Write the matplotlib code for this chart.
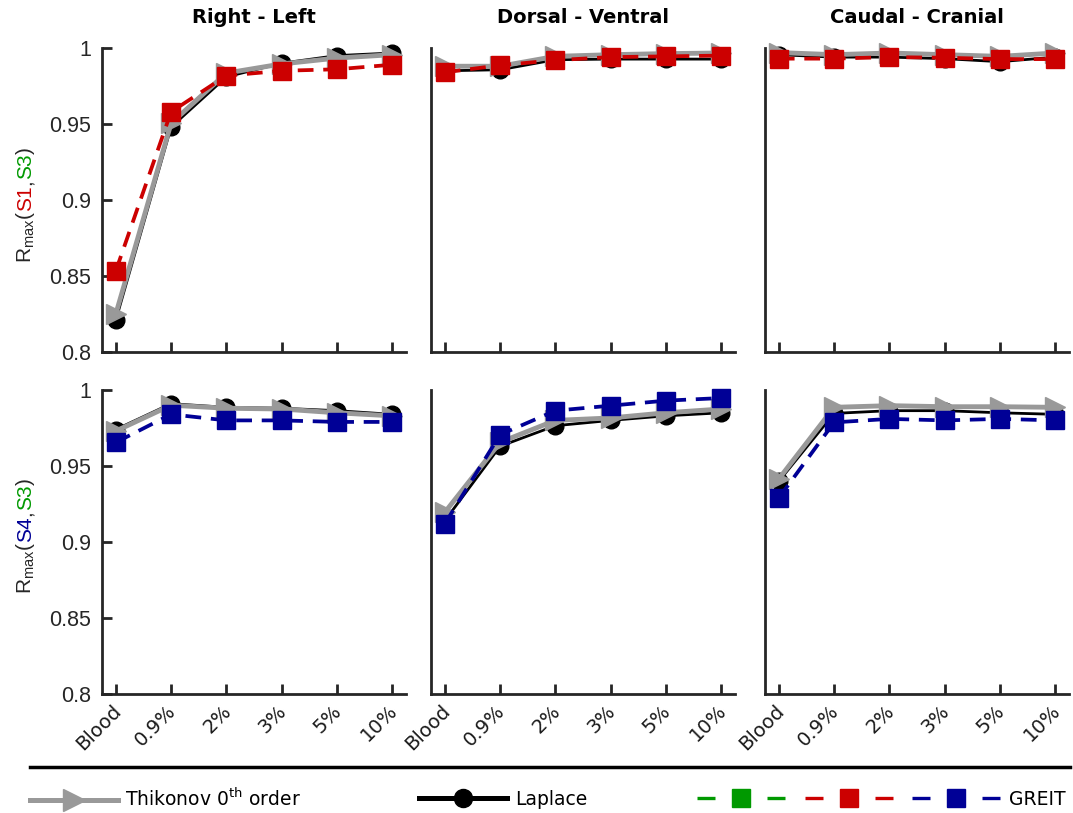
import matplotlib
matplotlib.use("Agg")
import matplotlib.pyplot as plt
from matplotlib.lines import Line2D
from matplotlib.legend_handler import HandlerTuple
from matplotlib.transforms import ScaledTranslation

plt.rcParams['font.family'] = ['DejaVu Sans']

# data
conc_labels = ["Blood", "0.9%", "2%", "3%", "5%", "10%"]
titles = ["Right - Left", "Dorsal - Ventral", "Caudal - Cranial"]

# top row: S1 (red GREIT)
thik_top = [
    [0.825, 0.9505, 0.9835, 0.9895, 0.9934, 0.9956],
    [0.988, 0.988, 0.9945, 0.9956, 0.9963, 0.9967],
    [0.997, 0.9956, 0.9967, 0.9956, 0.9945, 0.9967],
]
lap_top = [
    [0.821, 0.948, 0.981, 0.990, 0.995, 0.9967],
    [0.985, 0.9857, 0.9923, 0.9927, 0.9927, 0.9927],
    [0.9956, 0.994, 0.994, 0.993, 0.991, 0.994],
]
greit_s1 = [
    [0.8534, 0.958, 0.9818, 0.985, 0.986, 0.989],
    [0.984, 0.9886, 0.992, 0.994, 0.9945, 0.995],
    [0.993, 0.993, 0.994, 0.9936, 0.9927, 0.9927],
]

# bottom row: S4 (blue GREIT)
thik_bot = [
    [0.973, 0.990, 0.988, 0.9875, 0.985, 0.983],
    [0.9195, 0.9656, 0.980, 0.9816, 0.985, 0.9875],
    [0.9415, 0.9886, 0.9897, 0.989, 0.989, 0.9886],
]
lap_bot = [
    [0.974, 0.991, 0.9886, 0.988, 0.9864, 0.984],
    [0.914, 0.963, 0.9765, 0.980, 0.983, 0.985],
    [0.940, 0.9846, 0.9864, 0.9864, 0.985, 0.984],
]
greit_s4 = [
    [0.9655, 0.984, 0.980, 0.980, 0.979, 0.979],
    [0.912, 0.9706, 0.9864, 0.9897, 0.993, 0.9947],
    [0.929, 0.9787, 0.981, 0.980, 0.981, 0.980],
]

yticks = [0.8, 0.85, 0.9, 0.95, 1.0]
ytick_labels = ["0.8", "0.85", "0.9", "0.95", "1"]

grey = "#999999"
red = "#cc0000"
blue = "#000096"
green = "#009900"
axcol = "#262626"

W, H = 1073, 813
fig = plt.figure(figsize=(W / 100, H / 100), dpi=100)

lefts = [102, 431, 765]
axw = 304
row_tops = [48, 390]
axh = 304

x = list(range(len(conc_labels)))
axes = []
for r in range(2):
    for c in range(3):
        ax = fig.add_axes([lefts[c] / W, 1 - (row_tops[r] + axh) / H, axw / W, axh / H])
        axes.append(ax)
        if r == 0:
            thik, lap, gr, gcol = thik_top[c], lap_top[c], greit_s1[c], red
        else:
            thik, lap, gr, gcol = thik_bot[c], lap_bot[c], greit_s4[c], blue
        ax.plot(x, lap, color="black", lw=2.0, marker="o", ms=12, clip_on=False, zorder=3)
        ax.plot(x, thik, color=grey, lw=3.5, marker=">", ms=15, clip_on=False, zorder=4)
        ax.plot(x, gr, color=gcol, lw=2.7, ls=(0, (4.2, 2.6)), marker="s", ms=12.5,
                clip_on=False, zorder=5)

        ax.set_xlim(-0.25, 5.25)
        ax.set_ylim(0.8, 1.0)
        for s in ["top", "right"]:
            ax.spines[s].set_visible(False)
        for s in ["left", "bottom"]:
            ax.spines[s].set_color(axcol)
            ax.spines[s].set_linewidth(2)
        ax.set_xticks(x)
        ax.tick_params(axis="x", direction="in", length=7, width=2, color=axcol, pad=10)
        if r == 0:
            ax.set_xticklabels([])
            ax.set_title(titles[c], fontsize=14, fontweight="bold", pad=18)
        else:
            ax.set_xticklabels(conc_labels, rotation=45, ha="right", va="center",
                               rotation_mode="anchor", fontsize=14, color="#1a1a1a")
            for lab in ax.get_xticklabels():
                lab.set_transform(lab.get_transform() + ScaledTranslation(2 / 100, 0, fig.dpi_scale_trans))
        if c == 0:
            ax.set_yticks(yticks)
            ax.set_yticklabels(ytick_labels, fontsize=15.5, family="Liberation Sans", color=axcol)
            ax.tick_params(axis="y", direction="in", length=7, width=2, color=axcol, pad=8)
        else:
            ax.set_yticks([])

# y labels with coloured parts
renderer = fig.canvas.get_renderer()


def colored_ylabel(yc, pieces):
    texts = []
    total = 0
    for txt, col in pieces:
        t = fig.text(31 / W, 0, txt, color=col, rotation=90, rotation_mode="anchor",
                     ha="left", va="baseline", fontsize=15, family="Liberation Sans")
        hgt = t.get_window_extent(renderer).height / H
        texts.append((t, hgt))
        total += hgt
    y = yc - total / 2
    for t, hgt in texts:
        t.set_y(y)
        y += hgt


colored_ylabel(1 - 205 / H, [(r"R$_{\mathregular{max}}$(", "#262626"), ("S1", red),
                             (",", "#262626"), ("S3", green), (")", "#262626")])
colored_ylabel(1 - 536 / H, [(r"R$_{\mathregular{max}}$(", "#262626"), ("S4", blue),
                             (",", "#262626"), ("S3", green), (")", "#262626")])

# separator line above legend
fig.add_artist(Line2D([30 / W, 1070 / W], [1 - 767 / H, 1 - 767 / H],
                      transform=fig.transFigure, color="black", lw=2.5))

# legends
fs = 13.5
leg_y = 1 - 799 / H
h_thik = Line2D([], [], color=grey, lw=3.6, marker=">", ms=16)
h_lap = Line2D([], [], color="black", lw=3.6, marker="o", ms=13)
h_g = [Line2D([], [], color=col, lw=2.4, ls=(0, (5.4, 5.1)), marker="s", ms=13)
       for col in [green, red, blue]]

common = dict(frameon=False, borderpad=0, borderaxespad=0, fontsize=fs,
              loc="center left", numpoints=1)
leg1 = fig.legend([h_thik], [r"Thikonov 0$^{\mathregular{th}}$ order"],
                  bbox_to_anchor=(30 / W, leg_y), handlelength=4.7, handletextpad=0.37, **common)
leg2 = fig.legend([h_lap], ["Laplace"],
                  bbox_to_anchor=(419 / W, leg_y), handlelength=4.7, handletextpad=0.43, **common)
leg3 = fig.legend([tuple(h_g)], ["GREIT"],
                  bbox_to_anchor=(697 / W, leg_y), handlelength=16.2, handletextpad=0.43,
                  handler_map={tuple: HandlerTuple(ndivide=None, pad=1.0)}, **common)

fig.savefig("out.png", dpi=100)
